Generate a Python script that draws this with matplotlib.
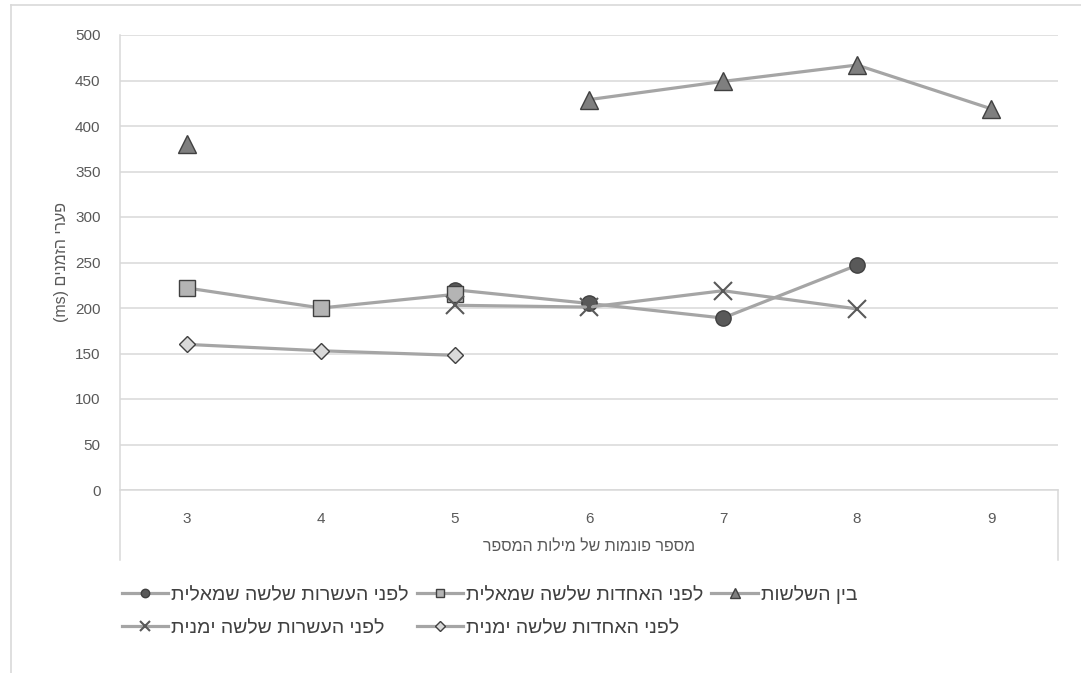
import numpy as np
import matplotlib
matplotlib.use("Agg")
import matplotlib.pyplot as plt
from matplotlib.lines import Line2D

plt.rcParams['font.family'] = ['Liberation Sans', 'DejaVu Sans']

# number of phonemes in the number words
phonemes = [3, 4, 5, 6, 7, 8, 9]

# time gaps (ms), nan where there is no measurement
tens_left = [np.nan, np.nan, 220, 205, 189, 247, np.nan]
units_left = [222, 200, 215, np.nan, np.nan, np.nan, np.nan]
between_triplets = [380, np.nan, np.nan, 429, 449, 467, 419]
tens_right = [np.nan, np.nan, 203, 201, 219, 199, np.nan]
units_right = [160, 153, 148, np.nan, np.nan, np.nan, np.nan]

labels = ['לפני העשרות שלשה שמאלית', 'לפני האחדות שלשה שמאלית', 'בין השלשות',
          'לפני העשרות שלשה ימנית', 'לפני האחדות שלשה ימנית']
x_title = 'מספר פונמות של מילות המספר'
y_title = 'פערי הזמנים'


def rtl(s):
    # matplotlib lays text out left to right, so hebrew goes in reversed
    return s[::-1]


line_col = '#a5a5a5'
edge_col = '#404040'
txt_col = '#595959'
grid_col = '#d9d9d9'

styles = [
    dict(marker='o', ms=11, mfc='#595959', mec=edge_col, mew=1.0),
    dict(marker='s', ms=11, mfc='#b4b4b4', mec=edge_col, mew=1.0),
    dict(marker='^', ms=13, mfc='#7f7f7f', mec=edge_col, mew=1.0),
    dict(marker='x', ms=13, mfc='none', mec='#595959', mew=1.5),
    dict(marker='D', ms=8.5, mfc='#d9d9d9', mec=edge_col, mew=1.0),
]
series = [tens_left, units_left, between_triplets, tens_right, units_right]

fig = plt.figure(figsize=(10.81, 6.73), dpi=100)
W, H = 1081, 673
ax = fig.add_axes([120 / W, 1 - 490 / H, (1058 - 120) / W, 455 / H])

for vals, st in zip(series, styles):
    ax.plot(phonemes, vals, color=line_col, lw=2.3, solid_capstyle='round', **st)

ax.set_xlim(2.5, 9.5)
ax.set_ylim(0, 500)
ax.set_xticks(phonemes)
ax.set_yticks(range(0, 501, 50))
ax.grid(axis='y', color=grid_col, lw=1.1)
ax.set_axisbelow(True)
for sp in ax.spines.values():
    sp.set_visible(False)
ax.tick_params(length=0, colors=txt_col, labelsize=11)
ax.tick_params(axis='y', pad=14)
ax.tick_params(axis='x', pad=16)

# axis line at zero plus the box edges running down past the category labels
ax.plot([0, 1], [0, 0], transform=ax.transAxes, color=grid_col, lw=1.1, clip_on=False)
drop = -(560 - 490) / 455
ax.plot([0, 0], [1, drop], transform=ax.transAxes, color=grid_col, lw=1.1, clip_on=False)
ax.plot([1, 1], [0, drop], transform=ax.transAxes, color=grid_col, lw=1.1, clip_on=False)

ax.set_xlabel(rtl(x_title), color=txt_col, fontsize=11.5, labelpad=9)
ax.set_ylabel('(ms) ' + rtl(y_title), color=txt_col, fontsize=11.5, labelpad=4)

# legend keys, three per row, filled column by column
handles = [Line2D([], [], color=line_col, lw=2.3, **dict(st, ms=st['ms'] * 0.55)) for st in styles]
order = [0, 3, 1, 4, 2]
leg = fig.legend([handles[i] for i in order], [rtl(labels[i]) for i in order],
                 loc='upper left', bbox_to_anchor=(114 / W, 1 - 577 / H), ncol=3,
                 frameon=False, fontsize=14, handlelength=2.4, handletextpad=0.15,
                 columnspacing=0.4, labelspacing=0.8, borderaxespad=0)
for t in leg.get_texts():
    t.set_color('#404040')

# chart area border
fig.add_artist(Line2D([11 / W, 11 / W], [0, 1 - 5 / H], color=grid_col, lw=1.2))
fig.add_artist(Line2D([11 / W, 1], [1 - 5 / H, 1 - 5 / H], color=grid_col, lw=1.2))

fig.savefig('out.png', dpi=100)
